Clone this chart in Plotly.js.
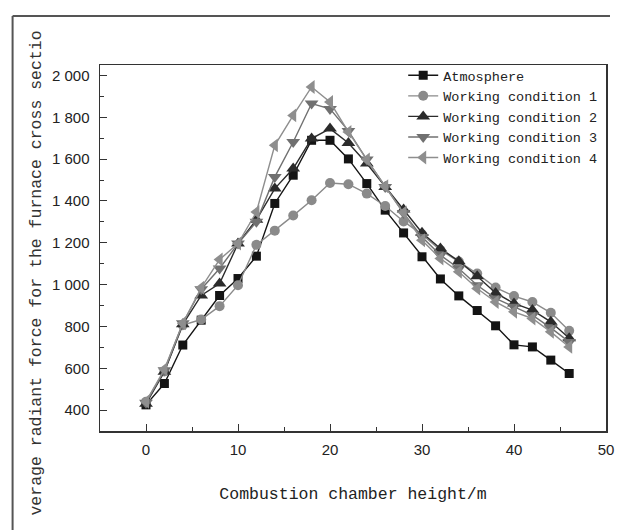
<!DOCTYPE html>
<html>
<head>
<meta charset="utf-8">
<script src="https://cdn.plot.ly/plotly-3.0.1.min.js"></script>
<style>
html,body{margin:0;padding:0;background:#fff;overflow:hidden;}
#chart{width:619px;height:530px;}
</style>
</head>
<body>
<div id="chart"></div>
<script>
// Data
const heights = [0,2,4,6,8,10,12,14,16,18,20,22,24,26,28,30,32,34,36,38,40,42,44,46];
const atmosphere = [425,527,711,830,948,1029,1136,1388,1523,1690,1690,1601,1483,1356,1247,1133,1027,946,876,803,712,702,639,575];
const condition1 = [440,585,806,833,897,997,1190,1258,1330,1403,1486,1480,1435,1376,1302,1240,1165,1110,1053,986,945,917,865,779];
const condition2 = [430,583,810,948,1005,1196,1310,1459,1555,1698,1746,1677,1579,1467,1359,1248,1173,1112,1040,960,910,878,822,743];
const condition3 = [435,590,815,978,1077,1196,1300,1515,1682,1866,1840,1735,1598,1467,1342,1228,1141,1077,997,934,894,854,793,726];
const condition4 = [440,595,815,985,1120,1196,1347,1666,1809,1945,1873,1730,1598,1470,1345,1212,1125,1061,981,917,870,838,774,702];
const seriesNames = ["Atmosphere","Working condition 1","Working condition 2","Working condition 3","Working condition 4"];
const yTickVals = [400,600,800,1000,1200,1400,1600,1800,2000];
const yTickText = ["400","600","800","1 000","1 200","1 400","1 600","1 800","2 000"];
const xTickVals = [0,10,20,30,40,50];

const W = 619, H = 530;
const mL = 99.5, mR = 13, mT = 65, mB = 99;
const pw = W - mL - mR, ph = H - mT - mB;
const px = v => (v - mL) / pw;          // pixel x -> paper
const py = v => (H - mB - v) / ph;      // pixel y -> paper

const mono = "Liberation Mono, DejaVu Sans Mono, monospace";
const sans = "Liberation Sans, Arial, sans-serif";

function tr(name, y, symbol, mcolor, lcolor, msize) {
  return {
    x: heights, y: y, name: name, type: "scatter", mode: "lines+markers",
    line: {color: lcolor, width: 1.4},
    marker: {symbol: symbol, size: msize, color: mcolor, line: {width: 0}}
  };
}

const data = [
  tr(seriesNames[0], atmosphere, "square", "#141414", "#141414", 9),
  tr(seriesNames[1], condition1, "circle", "#8a8a8a", "#8a8a8a", 10),
  tr(seriesNames[2], condition2, "triangle-up", "#2b2b2b", "#2b2b2b", 12),
  tr(seriesNames[3], condition3, "triangle-down", "#707070", "#707070", 12),
  tr(seriesNames[4], condition4, "triangle-left", "#8e8e8e", "#8e8e8e", 12)
];

const layout = {
  width: W, height: H,
  margin: {l: mL, r: mR, t: mT, b: mB, pad: 0},
  paper_bgcolor: "#fff", plot_bgcolor: "#fff",
  showlegend: true,
  legend: {
    x: px(403), y: py(60), xanchor: "left", yanchor: "top",
    bgcolor: "rgba(0,0,0,0)", borderwidth: 0,
    font: {family: mono, size: 13.5, color: "#222"},
    tracegroupgap: 0, itemwidth: 30
  },
  xaxis: {
    range: [-5, 50], tickvals: xTickVals, ticks: "inside", ticklen: 7, tickwidth: 1,
    tickcolor: "#333", showline: true, linecolor: "#333", linewidth: 1.5, mirror: true,
    showgrid: false, zeroline: false,
    minor: {dtick: 5, tick0: 0, ticks: "inside", ticklen: 4, tickcolor: "#333", showgrid: false},
    tickfont: {family: sans, size: 15, color: "#222"},
    ticklabelstandoff: 4,
    title: {text: "Combustion chamber height/m", font: {family: mono, size: 16.5, color: "#222"}, standoff: 31}
  },
  yaxis: {
    range: [300, 2050], tickvals: yTickVals, ticktext: yTickText, ticks: "inside", ticklen: 7, tickwidth: 1,
    tickcolor: "#333", showline: true, linecolor: "#333", linewidth: 1.5, mirror: true,
    showgrid: false, zeroline: false,
    minor: {dtick: 100, tick0: 0, ticks: "inside", ticklen: 4, tickcolor: "#333", showgrid: false},
    tickfont: {family: sans, size: 15, color: "#222"},
    ticklabelstandoff: 6
  },
  annotations: [{
    text: "verage radiant force for the furnace cross sectio",
    xref: "paper", yref: "paper", x: px(35), y: py(273),
    xanchor: "center", yanchor: "middle", textangle: -90, showarrow: false,
    font: {family: mono, size: 16.5, color: "#333"}
  }],
  shapes: [
    {type: "line", xref: "paper", yref: "paper", x0: px(12), x1: px(12), y0: py(16), y1: py(530),
     line: {color: "#555", width: 2}, layer: "below"},
    {type: "line", xref: "paper", yref: "paper", x0: px(12), x1: px(610), y0: py(16), y1: py(16),
     line: {color: "#555", width: 2}, layer: "below"}
  ]
};

Plotly.newPlot("chart", data, layout, {displayModeBar: false, staticPlot: true});
</script>
</body>
</html>
